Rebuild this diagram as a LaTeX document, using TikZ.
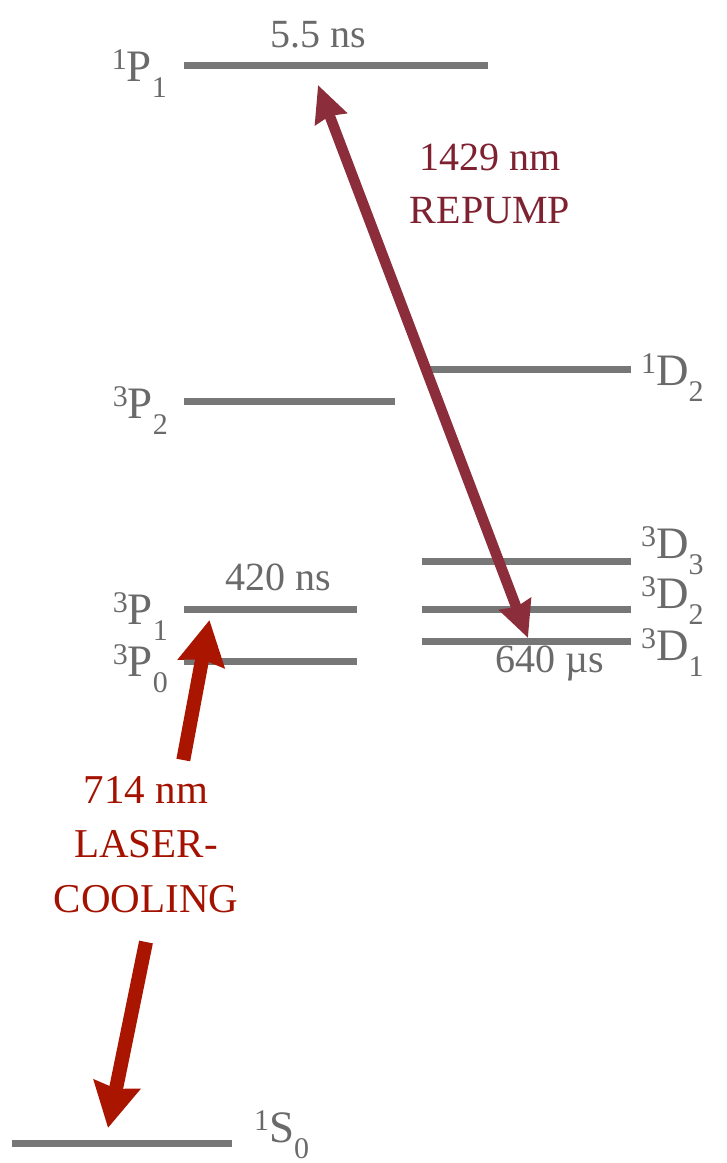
\documentclass[tikz,border=0pt]{standalone}
\usepackage{fontspec}
\setmainfont{Liberation Serif}
\usetikzlibrary{arrows.meta}
\definecolor{lvlgray}{HTML}{777777}
\definecolor{txtgray}{HTML}{6A6A6A}
\definecolor{repcol}{HTML}{8B2D3A}
\definecolor{repext}{HTML}{7E2130}
\definecolor{lascol}{HTML}{AA1500}
\definecolor{lastxt}{HTML}{A31200}
\newcommand\myterm[3]{{\fontsize{30}{30}\selectfont\raisebox{12pt}{#1}}#2{\fontsize{30}{30}\selectfont\raisebox{-16pt}{#3}}}
\tikzset{
  level/.style={line width=7pt, draw=lvlgray},
  lbl/.style={text=txtgray, font=\fontsize{40}{40}\selectfont, inner sep=0pt},
  termlbl/.style={text=txtgray, font=\fontsize{45}{45}\selectfont, inner sep=0pt},
  replbl/.style={text=repext, font=\fontsize{40}{40}\selectfont, inner sep=0pt},
  laslbl/.style={text=lastxt, font=\fontsize{41}{41}\selectfont, inner sep=0pt},
  reparrow/.style={line width=10.5pt, draw=repcol, {Stealth[length=36pt,width=33pt,inset=3pt]}-{Stealth[length=36pt,width=33pt,inset=3pt]}},
  lasarrow/.style={line width=14pt, draw=lascol, -{Stealth[length=44pt,width=46pt,inset=4pt]}}
}
\begin{document}
\begin{tikzpicture}[x=1pt,y=-1pt]
\useasboundingbox (0,0) rectangle (727,1163);
% level end points
\coordinate (P1a) at (184,65);   \coordinate (P1b) at (488,65);
\coordinate (tP2a) at (184,401); \coordinate (tP2b) at (395,401);
\coordinate (D2a) at (430,369);  \coordinate (D2b) at (631,369);
\coordinate (tD3a) at (422,561); \coordinate (tD3b) at (631,561);
\coordinate (tD2a) at (422,609); \coordinate (tD2b) at (631,609);
\coordinate (tD1a) at (422,641); \coordinate (tD1b) at (631,641);
\coordinate (tP1a) at (184,609); \coordinate (tP1b) at (357,609);
\coordinate (tP0a) at (184,661); \coordinate (tP0b) at (357,661);
\coordinate (S0a) at (12,1143);  \coordinate (S0b) at (232,1143);
\draw[level] (P1a) -- (P1b);
\draw[level] (tP2a) -- (tP2b);
\draw[level] (D2a) -- (D2b);
\draw[level] (tD3a) -- (tD3b);
\draw[level] (tD2a) -- (tD2b);
\draw[level] (tD1a) -- (tD1b);
\draw[level] (tP1a) -- (tP1b);
\draw[level] (tP0a) -- (tP0b);
\draw[level] (S0a) -- (S0b);
% term labels
\node[termlbl, anchor=base east] (lP1) at (167,81) {\myterm{1}{P}{1}};
\node[termlbl, anchor=base east] (ltP2) at (168,418) {\myterm{3}{P}{2}};
\node[termlbl, anchor=base east] (ltP1) at (168,624) {\myterm{3}{P}{1}};
\node[termlbl, anchor=base east] (ltP0) at (168,676) {\myterm{3}{P}{0}};
\node[termlbl, anchor=base west] (lD2) at (641,385) {\myterm{1}{D}{2}};
\node[termlbl, anchor=base west] (ltD3) at (641,558) {\myterm{3}{D}{3}};
\node[termlbl, anchor=base west] (ltD2) at (641,608) {\myterm{3}{D}{2}};
\node[termlbl, anchor=base west] (ltD1) at (641,660) {\myterm{3}{D}{1}};
\node[termlbl, anchor=base west] (lS0) at (254,1142) {\myterm{1}{S}{0}};
% lifetimes
\node[lbl, anchor=base] (life1) at (318,47) {5.5 ns};
\node[lbl, anchor=base] (life2) at (278,590) {420 ns};
\node[lbl, anchor=base] (life3) at (550,672) {640 µs};
% repump
\node[replbl, anchor=base] (rep1) at (490,170) {1429 nm};
\node[replbl, anchor=base] (rep2) at (490,223) {REPUMP};
\coordinate (repTop) at (318,85);
\coordinate (repBot) at (528,638);
\draw[reparrow] (repTop) -- (repBot);
% laser cooling
\node[laslbl, anchor=base] (las1) at (146,803) {714 nm};
\node[laslbl, anchor=base] (las2) at (146,857) {LASER-};
\node[laslbl, anchor=base] (las3) at (146,912) {COOLING};
\coordinate (lasUpStart) at (183.3,760);
\coordinate (lasUpTip) at (209.5,620);
\coordinate (lasDnStart) at (146,942);
\coordinate (lasDnTip) at (108,1128);
\draw[lasarrow] (lasUpStart) -- (lasUpTip);
\draw[lasarrow] (lasDnStart) -- (lasDnTip);
\end{tikzpicture}
\end{document}
